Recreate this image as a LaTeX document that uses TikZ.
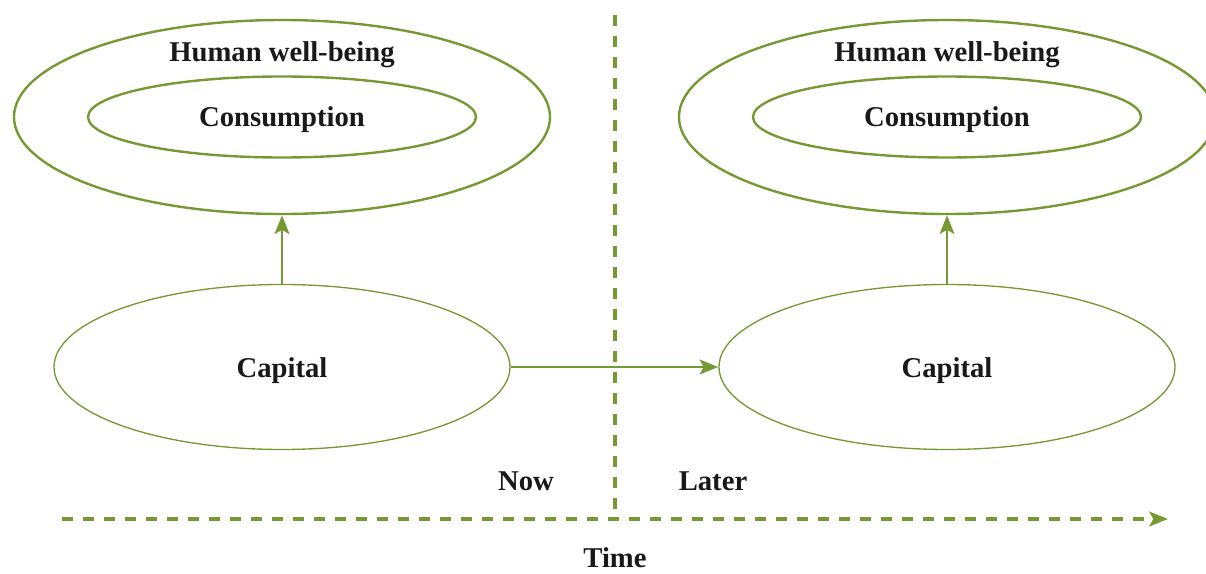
\documentclass[tikz,border=0pt]{standalone}
\usepackage{fontspec}
\setmainfont{Liberation Serif}
\usetikzlibrary{shapes.geometric,arrows.meta}
\definecolor{leaf}{RGB}{119,153,52}
\tikzset{
  outer/.style={ellipse,draw=leaf,line width=1.8pt,minimum width=536*0.75pt,minimum height=194*0.75pt,inner sep=0pt},
  inner/.style={ellipse,draw=leaf,line width=1.8pt,minimum width=388*0.75pt,minimum height=81*0.75pt,inner sep=0pt},
  capbox/.style={ellipse,draw=leaf,line width=1pt,minimum width=456*0.75pt,minimum height=165*0.75pt,inner sep=0pt},
  lbl/.style={font=\bfseries\fontsize{21.5}{24}\selectfont,text=black!90,inner sep=0pt,anchor=base},
  link/.style={draw=leaf,line width=2.2pt,-{Stealth[length=14pt,width=11pt,inset=3pt]}},
  dashline/.style={draw=leaf,line width=2.4pt,dash pattern=on 8.25pt off 7.5pt},
}
\begin{document}
\begin{tikzpicture}[x=0.75pt,y=-0.75pt]
\useasboundingbox (0,0) rectangle (1206,574);
\clip (0,0) rectangle (1206,574);
% left
\node[outer] (hwL) at (282,117) {};
\node[inner] (coL) at (282,117) {};
\node[capbox] (caL) at (282,367) {};
\node[lbl] (thwL) at (282,62) {Human well-being};
\node[lbl] (tcoL) at (282,127) {Consumption};
\node[lbl] (tcaL) at (282,377) {Capital};
% right
\node[outer] (hwR) at (947,117) {};
\node[inner] (coR) at (947,117) {};
\node[capbox] (caR) at (947,367) {};
\node[lbl] (thwR) at (947,62) {Human well-being};
\node[lbl] (tcoR) at (947,127) {Consumption};
\node[lbl] (tcaR) at (947,377) {Capital};
% arrows
\draw[link] (caL.north) -- (hwL.south);
\draw[link] (caR.north) -- (hwR.south);
\draw[link] (caL.east) -- (caR.west);
% time axis
\coordinate (vtop) at (615,15);
\coordinate (vbot) at (615,519);
\coordinate (tstart) at (62,519);
\coordinate (tend) at (1168,519);
\draw[dashline] (vtop) -- (vbot);
\draw[dashline,-{Stealth[length=14pt,width=11pt,inset=3pt]}] (tstart) -- (tend);
\node[lbl] (now) at (526,490) {Now};
\node[lbl] (later) at (713,490) {Later};
\node[lbl] (time) at (615,567) {Time};
\end{tikzpicture}
\end{document}
